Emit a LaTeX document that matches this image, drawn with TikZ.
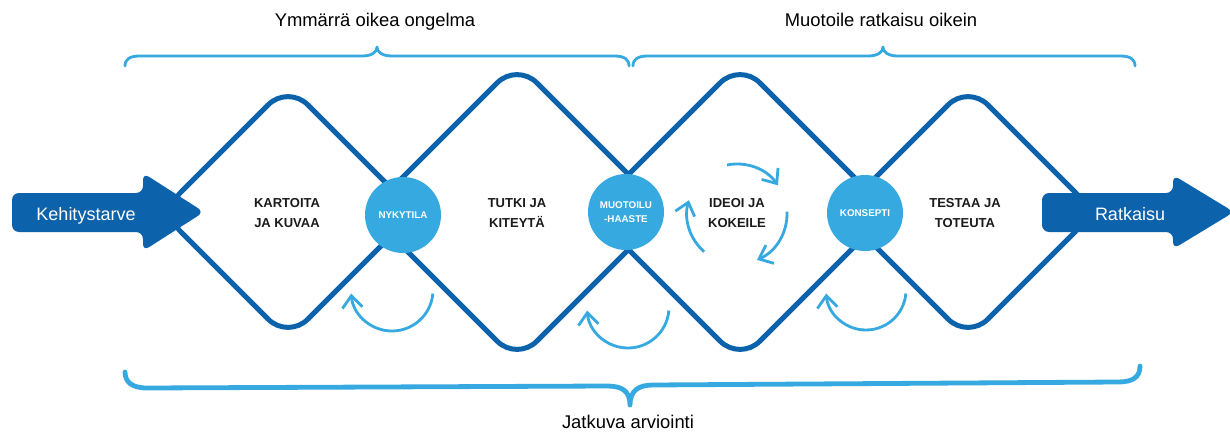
\documentclass[tikz,border=0pt]{standalone}
\usepackage{fontspec}
\setmainfont{Liberation Sans}
\usetikzlibrary{arrows.meta}
\definecolor{dblue}{RGB}{12,98,171}
\definecolor{lblue}{RGB}{54,169,225}
\definecolor{txt}{RGB}{26,26,26}
\begin{document}
\begin{tikzpicture}[x=0.5pt,y=0.5pt,
  diam/.style={draw=dblue, line width=2.5pt, rounded corners=14pt},
  bigarrow/.style={fill=dblue, rounded corners=3.5pt},
  hub/.style={circle, fill=lblue, minimum size=38pt, inner sep=0pt, text=white,
    font=\bfseries\fontsize{4.9}{7}\selectfont, align=center},
  phase/.style={font=\bfseries\fontsize{6.5}{10}\selectfont, text=txt, align=center},
  cyc/.style={draw=lblue, line width=1.4pt, -{Straight Barb[length=6pt,width=10pt]}},
  tbrace/.style={draw=lblue, line width=1.4pt, line cap=round, line join=round},
  bbrace/.style={draw=lblue, line width=2.4pt, line cap=round, line join=round},
  toplabel/.style={font=\fontsize{9.2}{11}\selectfont, text=black, anchor=base, inner sep=0pt},
  arrowtext/.style={font=\fontsize{9}{11}\selectfont, text=white, anchor=base, inner sep=0pt}
]
\useasboundingbox (0,0) rectangle (1230,-433);

% diamonds
\draw[diam] (224.5,-148.5) -- (288,-85) -- (415,-212) -- (288,-339) -- (161,-212) -- cycle;
\draw[diam] (442.5,-137.5) -- (517,-63) -- (666,-212) -- (517,-361) -- (368,-212) -- cycle;
\draw[diam] (665.5,-137.5) -- (740,-63) -- (889,-212) -- (740,-361) -- (591,-212) -- cycle;
\draw[diam] (904.5,-148.5) -- (968,-85) -- (1095,-212) -- (968,-339) -- (841,-212) -- cycle;

% big arrows
\fill[bigarrow] (12,-212) -- (12,-193) -- (143,-193) -- (143,-173) -- (204,-212)
  -- (143,-251) -- (143,-232) -- (12,-232) -- cycle;
\fill[bigarrow] (1042,-212) -- (1042,-193) -- (1173,-193) -- (1173,-175) -- (1234,-212)
  -- (1173,-249) -- (1173,-232) -- (1042,-232) -- cycle;
\node[arrowtext] (kehitys) at (86,-220) {Kehitystarve};
\node[arrowtext] (ratkaisu) at (1130,-220) {Ratkaisu};

% hubs
\node[hub] (nyky) at (403,-215) {NYKYTILA};
\node[hub] (haaste) at (626,-212) {MUOTOILU\\-HAASTE};
\node[hub] (konsepti) at (865,-213) {KONSEPTI};

% phase labels
\node[phase] (kartoita) at (287,-213) {KARTOITA\\JA KUVAA};
\node[phase] (tutki) at (517,-213) {TUTKI JA\\KITEYTÄ};
\node[phase] (ideoi) at (737,-213) {IDEOI JA\\KOKEILE};
\node[phase] (testaa) at (965,-213) {TESTAA JA\\TOTEUTA};

% cycle arrows
\draw[cyc] (737,-214) ++(101.5:50) arc[start angle=101.5, end angle=35, radius=50];
\draw[cyc] (737,-214) ++(2.6:50) arc[start angle=2.6, end angle=-66.5, radius=50];
\draw[cyc] (737,-214) ++(229:50) arc[start angle=229, end angle=164, radius=50];

% loop-back arrows
\draw[cyc] (392,-290) ++(-5:41) arc[start angle=-5, end angle=-175, radius=41];
\draw[cyc] (628,-307) ++(-5:41) arc[start angle=-5, end angle=-175, radius=41];
\draw[cyc] (866,-290) ++(-5:40) arc[start angle=-5, end angle=-175, radius=40];

% braces
\draw[tbrace] (125,-66) .. controls (125,-59) and (130,-56) .. (140,-56) -- (362,-56)
  .. controls (372,-56) and (377,-52) .. (377,-47)
  .. controls (377,-52) and (382,-56) .. (392,-56) -- (614,-56)
  .. controls (624,-56) and (629,-59) .. (629,-66);
\draw[tbrace] (633,-66) .. controls (633,-59) and (638,-56) .. (648,-56) -- (868,-56)
  .. controls (878,-56) and (883,-52) .. (883,-47)
  .. controls (883,-52) and (888,-56) .. (898,-56) -- (1120,-56)
  .. controls (1130,-56) and (1135,-59) .. (1135,-66);
\draw[bbrace] (125,-372) .. controls (125,-382) and (132,-388) .. (147,-388) -- (607,-386)
  .. controls (622,-386) and (630,-391) .. (630,-405)
  .. controls (630,-391) and (638,-385) .. (653,-385) -- (1118,-382)
  .. controls (1133,-382) and (1140,-377) .. (1140,-366);

% labels
\node[toplabel] (ymm) at (375,-27) {Ymmärrä oikea ongelma};
\node[toplabel] (muot) at (881,-27) {Muotoile ratkaisu oikein};
\node[toplabel] (jatk) at (628,-428) {Jatkuva arviointi};
\end{tikzpicture}
\end{document}
